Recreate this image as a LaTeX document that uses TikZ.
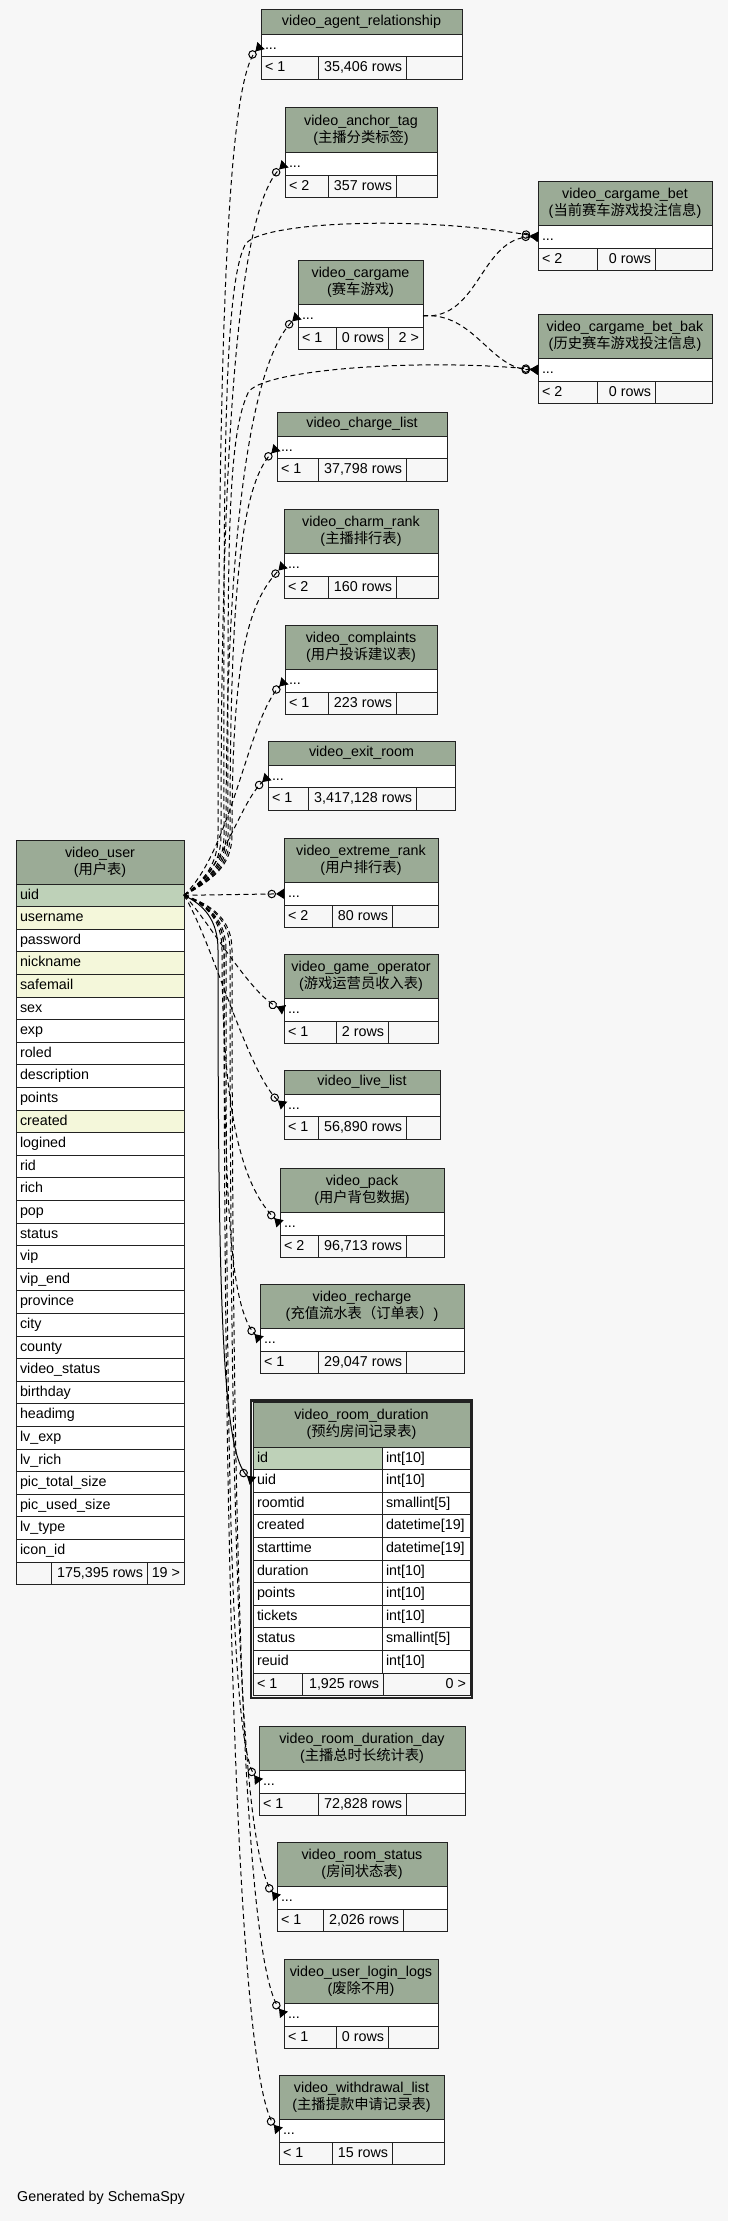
\documentclass[tikz,border=0pt]{standalone}
\usepackage{fontspec}
\setmainfont{Liberation Sans}
\newfontfamily\cjk{Noto Sans CJK SC}
\usepackage{tikz}
\usetikzlibrary{positioning}
\usetikzlibrary{arrows.meta}

\definecolor{bgcol}{HTML}{F7F7F7}
\definecolor{headcol}{HTML}{9BAB96}
\definecolor{pkcol}{HTML}{BED1B8}
\definecolor{idxcol}{HTML}{F4F7DA}
\definecolor{footcol}{HTML}{F7F7F7}
\definecolor{linecol}{HTML}{222222}

\newcommand{\zh}[1]{{\cjk #1}}
% header and "..." row of a table
\newcommand{\tblhead}[6]{%
  \node[tbl head, minimum width=#4, minimum height=#5] (#1) at (#2,#3) {#6};
  \node[tbl row, minimum width=#4, below=0pt of #1] (#1_row) {\makebox[\dimexpr#4pt-8pt][l]{...}};
}
% row count line under a table
\newcommand{\tblfoot}[8]{%
  \node[tbl foot, minimum width=#3, anchor=north west] (#2_lt) at (#1.south west) {\makebox[\dimexpr#3pt-8pt][l]{#6}};
  \node[tbl foot, minimum width=#4, right=0pt of #2_lt] (#2_mid) {\makebox[\dimexpr#4pt-8pt][r]{#7}};
  \node[tbl foot, minimum width=#5, right=0pt of #2_mid] (#2_rt) {\makebox[\dimexpr#5pt-8pt][r]{#8}};
}

\begin{document}
\begin{tikzpicture}
    [
    x=1pt, y=-1pt,
    font=\fontsize{14.3}{17}\selectfont,
    tbl head/.style={draw=linecol, line width=1pt, outer sep=0pt, fill=headcol, align=center, inner sep=0pt, anchor=north west},
    tbl row/.style={draw=linecol, line width=1pt, outer sep=0pt, fill=white, inner xsep=4pt, inner ysep=0pt, minimum height=22.6, text height=10.5pt, text depth=3pt},
    tbl foot/.style={tbl row, fill=footcol},
    implied link/.style={draw, line width=1pt, dash pattern=on 5pt off 3.5pt, -{Circle[open, length=8.5pt, width=8.5pt] Triangle[reversed, length=8pt, width=10pt]}},
    real link/.style={implied link, solid},
    ]

    \fill[bgcol] (0,0) rectangle (728,2221);
    \useasboundingbox (0,0) rectangle (728,2221);

    % main table
    \node[tbl head, minimum width=168, minimum height=44] (tbl_user) at (16,840) {video\_user\\(\zh{用户表})};
    \node[tbl row, fill=pkcol, minimum width=168, below=0pt of tbl_user] (user_uid) {\makebox[160pt][l]{uid}};
    \foreach \col/\shade [count=\i] in {username/idxcol, password/white, nickname/idxcol, safemail/idxcol, sex/white, exp/white, roled/white, description/white, points/white, created/idxcol, logined/white, rid/white, rich/white, pop/white, status/white, vip/white, vip\_end/white, province/white, city/white, county/white, video\_status/white, birthday/white, headimg/white, lv\_exp/white, lv\_rich/white, pic\_total\_size/white, pic\_used\_size/white, lv\_type/white, icon\_id/white}
        \node[tbl row, fill=\shade, minimum width=168, anchor=north west] (user_\i) at (16,{906.6+(\i-1)*22.6}) {\makebox[160pt][l]{\col}};
    \tblfoot{user_29}{tbl_user}{35}{96}{37}{}{175,395 rows}{19 >}

    % child tables
    \tblhead{tbl_agent_relationship}{261}{10}{201}{24.3}{video\_agent\_relationship}
    \tblfoot{tbl_agent_relationship_row}{tbl_agent_relationship}{57}{88}{56}{< 1}{35,406 rows}{}

    \tblhead{tbl_anchor_tag}{285}{108}{152}{44.5}{video\_anchor\_tag\\(\zh{主播分类标签})}
    \tblfoot{tbl_anchor_tag_row}{tbl_anchor_tag}{43}{68}{41}{< 2}{357 rows}{}

    \tblhead{tbl_cargame_bet}{538}{181}{174}{44.5}{video\_cargame\_bet\\(\zh{当前赛车游戏投注信息})}
    \tblfoot{tbl_cargame_bet_row}{tbl_cargame_bet}{59}{58}{57}{< 2}{0 rows}{}

    \tblhead{tbl_cargame}{298}{260}{125}{44.5}{video\_cargame\\(\zh{赛车游戏})}
    \tblfoot{tbl_cargame_row}{tbl_cargame}{38}{52}{35}{< 1}{0 rows}{2 >}

    \tblhead{tbl_cargame_bet_bak}{538}{314}{174}{44.5}{video\_cargame\_bet\_bak\\(\zh{历史赛车游戏投注信息})}
    \tblfoot{tbl_cargame_bet_bak_row}{tbl_cargame_bet_bak}{59}{58}{57}{< 2}{0 rows}{}

    \tblhead{tbl_charge_list}{277}{412}{170}{24.3}{video\_charge\_list}
    \tblfoot{tbl_charge_list_row}{tbl_charge_list}{41}{88}{41}{< 1}{37,798 rows}{}

    \tblhead{tbl_charm_rank}{284}{509}{154}{44.5}{video\_charm\_rank\\(\zh{主播排行表})}
    \tblfoot{tbl_charm_rank_row}{tbl_charm_rank}{44}{68}{42}{< 2}{160 rows}{}

    \tblhead{tbl_complaints}{285}{625}{152}{44.5}{video\_complaints\\(\zh{用户投诉建议表})}
    \tblfoot{tbl_complaints_row}{tbl_complaints}{43}{68}{41}{< 1}{223 rows}{}

    \tblhead{tbl_exit_room}{268}{741}{187}{24.3}{video\_exit\_room}
    \tblfoot{tbl_exit_room_row}{tbl_exit_room}{40}{108}{39}{< 1}{3,417,128 rows}{}

    \tblhead{tbl_extreme_rank}{284}{838}{154}{44.5}{video\_extreme\_rank\\(\zh{用户排行表})}
    \tblfoot{tbl_extreme_rank_row}{tbl_extreme_rank}{48}{60}{46}{< 2}{80 rows}{}

    \tblhead{tbl_game_operator}{284}{954}{154}{44.5}{video\_game\_operator\\(\zh{游戏运营员收入表})}
    \tblfoot{tbl_game_operator_row}{tbl_game_operator}{52}{52}{50}{< 1}{2 rows}{}

    \tblhead{tbl_live_list}{284}{1070}{156}{24.3}{video\_live\_list}
    \tblfoot{tbl_live_list_row}{tbl_live_list}{34}{88}{34}{< 1}{56,890 rows}{}

    \tblhead{tbl_pack}{280}{1168}{164}{44.5}{video\_pack\\(\zh{用户背包数据})}
    \tblfoot{tbl_pack_row}{tbl_pack}{38}{88}{38}{< 2}{96,713 rows}{}

    \tblhead{tbl_recharge}{260}{1284}{204}{44.5}{video\_recharge\\(\zh{充值流水表（订单表）})}
    \tblfoot{tbl_recharge_row}{tbl_recharge}{58}{88}{58}{< 1}{29,047 rows}{}

    % the one table shown with its columns
    \draw[linecol, line width=2.2pt] (250.8,1400.5) rectangle (472.2,1697.8);
    \node[tbl head, minimum width=217, minimum height=45] (tbl_room_duration) at (253,1402) {video\_room\_duration\\(\zh{预约房间记录表})};
    \foreach \col/\type/\shade [count=\i] in {id/int[10]/pkcol, uid/int[10]/white, roomtid/smallint[5]/white, created/datetime[19]/white, starttime/datetime[19]/white, duration/int[10]/white, points/int[10]/white, tickets/int[10]/white, status/smallint[5]/white, reuid/int[10]/white}
    {
        \node[tbl row, fill=\shade, minimum width=129, anchor=north west] (rd_\col) at (253,{1447+(\i-1)*22.6}) {\makebox[121pt][l]{\col}};
        \node[tbl row, minimum width=88, right=0pt of rd_\col] (rd_\col_type) {\makebox[80pt][l]{\type}};
    }
    \tblfoot{rd_reuid}{tbl_room_duration}{49}{81}{87}{< 1}{1,925 rows}{0 >}

    \tblhead{tbl_room_duration_day}{259}{1726}{206}{44.5}{video\_room\_duration\_day\\(\zh{主播总时长统计表})}
    \tblfoot{tbl_room_duration_day_row}{tbl_room_duration_day}{59}{88}{59}{< 1}{72,828 rows}{}

    \tblhead{tbl_room_status}{277}{1842}{170}{44.5}{video\_room\_status\\(\zh{房间状态表})}
    \tblfoot{tbl_room_status_row}{tbl_room_status}{46}{80}{44}{< 1}{2,026 rows}{}

    \tblhead{tbl_user_login_logs}{284}{1959}{154}{44.5}{video\_user\_login\_logs\\(\zh{废除不用})}
    \tblfoot{tbl_user_login_logs_row}{tbl_user_login_logs}{52}{52}{50}{< 1}{0 rows}{}

    \tblhead{tbl_withdrawal_list}{279}{2075}{165}{44.5}{video\_withdrawal\_list\\(\zh{主播提款申请记录表})}
    \tblfoot{tbl_withdrawal_list_row}{tbl_withdrawal_list}{53}{60}{52}{< 1}{15 rows}{}

    \node[anchor=west, inner sep=0pt] (credit) at (17,2198) {Generated by SchemaSpy};

    % links from video_user.uid, going up
    \draw[implied link] (user_uid.east) .. controls (204,880) and (218,865) .. (218,835)
        .. controls (218,322) and (228,80) .. (tbl_agent_relationship_row.west);
    \draw[implied link] (user_uid.east) .. controls (206,880) and (221,865) .. (221,835)
        .. controls (221,399) and (242,205) .. (tbl_anchor_tag_row.west);
    \draw[implied link] (user_uid.east) .. controls (208,880) and (224,865) .. (224,835)
        .. controls (224,500) and (222,290) .. (245,245)
        .. controls (257,221.5) and (420,215) .. (tbl_cargame_bet_row.west);
    \draw[implied link] (user_uid.east) .. controls (209,880) and (226,865) .. (226,835)
        .. controls (226,498) and (256,356) .. (tbl_cargame_row.west);
    \draw[implied link] (user_uid.east) .. controls (210,880) and (228,865) .. (228,835)
        .. controls (228,560) and (226,440) .. (248,393)
        .. controls (259,369.5) and (420,358) .. (tbl_cargame_bet_bak_row.west);
    \draw[implied link] (user_uid.east) .. controls (212,880) and (230,865) .. (230,835)
        .. controls (230,583) and (242,483) .. (tbl_charge_list_row.west);
    \draw[implied link] (user_uid.east) .. controls (213,880) and (232,865) .. (232,835)
        .. controls (232,659) and (248,602) .. (tbl_charm_rank_row.west);
    \draw[implied link] (user_uid.east) .. controls (232,850) and (248,718) .. (tbl_complaints_row.west);
    \draw[implied link] (user_uid.east) .. controls (225,870) and (238,805) .. (tbl_exit_room_row.west);
    % level and going down
    \draw[implied link] (user_uid.east) -- (tbl_extreme_rank_row.west);
    \draw[implied link] (user_uid.east) .. controls (205,915) and (250,995) .. (tbl_game_operator_row.west);
    \draw[implied link] (user_uid.east) .. controls (212,940) and (248,1075) .. (tbl_live_list_row.west);
    \draw[implied link] (user_uid.east) .. controls (207,905) and (222,920) .. (222,950)
        .. controls (222,1128) and (246,1190) .. (tbl_pack_row.west);
    \draw[implied link] (user_uid.east) .. controls (208,905) and (224,920) .. (224,950)
        .. controls (224,1204) and (230,1308) .. (tbl_recharge_row.west);
    \draw[real link] (user_uid.east) .. controls (204,905) and (218,920) .. (218,950)
        .. controls (218,1295) and (222,1455) .. (rd_uid.west);
    \draw[implied link] (user_uid.east) .. controls (209,905) and (226,920) .. (226,950)
        .. controls (226,1490) and (232,1745) .. (tbl_room_duration_day_row.west);
    \draw[implied link] (user_uid.east) .. controls (211,905) and (230,920) .. (230,950)
        .. controls (230,1566) and (242,1855) .. (tbl_room_status_row.west);
    \draw[implied link] (user_uid.east) .. controls (213,905) and (232,920) .. (232,950)
        .. controls (232,1642) and (248,1970) .. (tbl_user_login_logs_row.west);
    \draw[implied link] (user_uid.east) .. controls (208,905) and (224,920) .. (224,950)
        .. controls (224,1717) and (244,2090) .. (tbl_withdrawal_list_row.west);

    % links from video_cargame
    \draw[implied link] (tbl_cargame_row.east) .. controls (480,320) and (480,237) .. (tbl_cargame_bet_row.west);
    \draw[implied link] (tbl_cargame_row.east) .. controls (475,312) and (490,370) .. (tbl_cargame_bet_bak_row.west);
\end{tikzpicture}
\end{document}
